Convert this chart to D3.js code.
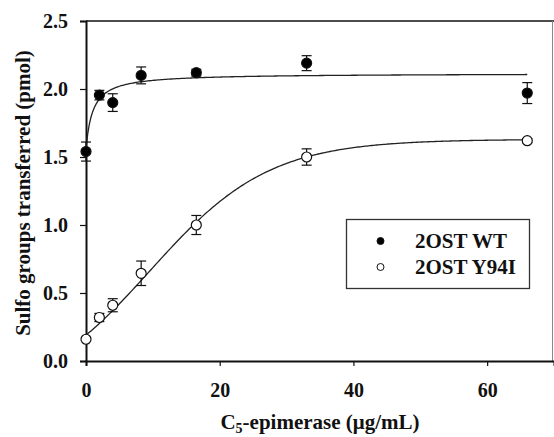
<!DOCTYPE html>
<html>
<head>
<meta charset="utf-8">
<script src="https://cdn.jsdelivr.net/npm/d3@7"></script>
<style>
  body { margin: 0; background: #fff; }
  svg { display: block; font-family: "Liberation Serif", "Times New Roman", serif; font-weight: bold; }
</style>
</head>
<body>
<svg width="554" height="437"></svg>
<script>
// epimerase concentration (ug/mL)
const conc = [0, 2, 4, 8.25, 16.5, 33, 66];
// 2OST WT
const wtMean = [1.54, 1.955, 1.90, 2.10, 2.12, 2.19, 1.97];
const wtErr  = [0.07, 0.035, 0.065, 0.062, 0.025, 0.055, 0.077];
// 2OST Y94I
const mutMean = [0.16, 0.32, 0.41, 0.645, 1.0, 1.50, 1.62];
const mutErr  = [0, 0.03, 0.048, 0.09, 0.07, 0.06, 0.015];

const xTicks = [0, 20, 40, 60];
const yTicks = [0.0, 0.5, 1.0, 1.5, 2.0, 2.5];
const seriesNames = ["2OST WT", "2OST Y94I"];

// fitted curves (hyperbola for WT, sigmoid for Y94I)
const wtFit = x => 1.56 + 0.555 * x / (1.03 + x);
const mutFit = x => -0.3 + 1.93 / (1 + Math.exp(-(x - 9.6) / 8.9));

const svg = d3.select("svg");
const pLeft = 86, pRight = 554, pTop = 21, pBottom = 361;

const x = d3.scaleLinear().domain([0, 70]).range([pLeft, pRight]);
const y = d3.scaleLinear().domain([0, 2.5]).range([pBottom, pTop]);

// frame: top and right
svg.append("line").attr("x1", pLeft).attr("x2", pRight).attr("y1", pTop).attr("y2", pTop)
  .attr("stroke", "#111").attr("stroke-width", 1.5);
svg.append("line").attr("x1", 552.5).attr("x2", 552.5).attr("y1", pTop).attr("y2", pBottom)
  .attr("stroke", "#888").attr("stroke-width", 1);

// axes
const xAxis = svg.append("g").attr("transform", `translate(0,${pBottom})`)
  .call(d3.axisBottom(x).tickValues(xTicks).tickSize(5).tickPadding(17).tickFormat(d3.format("d")));
const yAxis = svg.append("g").attr("transform", `translate(${pLeft},0)`)
  .call(d3.axisLeft(y).tickValues(yTicks).tickSize(6).tickPadding(12).tickFormat(d3.format(".1f")));

[xAxis, yAxis].forEach(g => {
  g.select(".domain").attr("stroke", "#111").attr("stroke-width", 2);
  g.selectAll(".tick line").attr("stroke", "#111").attr("stroke-width", 1.2);
  g.selectAll(".tick text").attr("fill", "#111").style("font-size", "20px")
    .style("font-family", "Liberation Serif, serif").style("font-weight", "bold");
});

// axis titles
const xt = svg.append("text").attr("x", (pLeft + pRight) / 2).attr("y", 429)
  .attr("text-anchor", "middle").style("font-size", "21px").attr("fill", "#111");
xt.append("tspan").text("C");
xt.append("tspan").text("5").style("font-size", "14px").attr("dy", 4);
xt.append("tspan").text("-epimerase (\u03bcg/mL)").attr("dy", -4);

svg.append("text").attr("transform", `translate(30,${(pTop + pBottom) / 2 + 2}) rotate(-90)`)
  .attr("text-anchor", "middle").style("font-size", "21px").attr("fill", "#111")
  .text("Sulfo groups transferred (pmol)");

// fit lines
const xs = d3.range(0, 66.01, 0.25);
const line = d3.line().x(d => x(d[0])).y(d => y(d[1]));
svg.append("path").datum(xs.map(v => [v, wtFit(v)])).attr("d", line)
  .attr("fill", "none").attr("stroke", "#222").attr("stroke-width", 1.3);
svg.append("path").datum(xs.map(v => [v, mutFit(v)])).attr("d", line)
  .attr("fill", "none").attr("stroke", "#222").attr("stroke-width", 1.3);

function drawSeries(means, errs, filled) {
  const data = conc.map((c, i) => ({ c, m: means[i], e: errs[i] }));
  const g = svg.append("g");
  const eb = g.selectAll("g.eb").data(data.filter(d => d.e > 0)).enter().append("g")
    .attr("stroke", "#111").attr("stroke-width", 1.2);
  eb.append("line").attr("x1", d => x(d.c)).attr("x2", d => x(d.c))
    .attr("y1", d => y(d.m - d.e)).attr("y2", d => y(d.m + d.e));
  eb.append("line").attr("x1", d => x(d.c) - 5).attr("x2", d => x(d.c) + 5)
    .attr("y1", d => y(d.m - d.e)).attr("y2", d => y(d.m - d.e));
  eb.append("line").attr("x1", d => x(d.c) - 5).attr("x2", d => x(d.c) + 5)
    .attr("y1", d => y(d.m + d.e)).attr("y2", d => y(d.m + d.e));
  g.selectAll("circle").data(data).enter().append("circle")
    .attr("cx", d => x(d.c)).attr("cy", d => y(d.m)).attr("r", 5)
    .attr("fill", filled ? "#000" : "#fff").attr("stroke", "#111").attr("stroke-width", 1.2);
}
drawSeries(mutMean, mutErr, false);
drawSeries(wtMean, wtErr, true);

// legend
const lg = svg.append("g");
lg.append("rect").attr("x", 346.5).attr("y", 219.5).attr("width", 183).attr("height", 69)
  .attr("fill", "#fff").attr("stroke", "#333").attr("stroke-width", 1.3);
seriesNames.forEach((name, i) => {
  const yy = 241 + i * 26;
  lg.append("circle").attr("cx", 380.5).attr("cy", yy).attr("r", 3.5)
    .attr("fill", i === 0 ? "#000" : "#fff").attr("stroke", "#111").attr("stroke-width", 1);
  lg.append("text").attr("x", 415).attr("y", yy + 7).style("font-size", "21px").attr("fill", "#111").text(name);
});
</script>
</body>
</html>
